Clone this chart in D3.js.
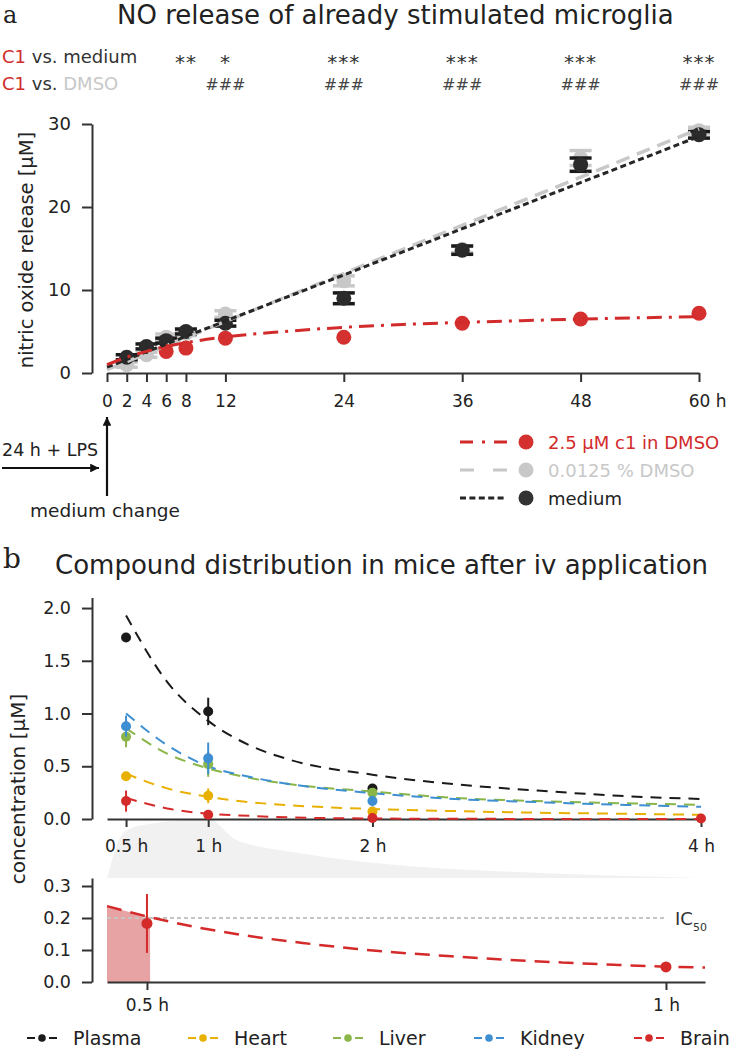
<!DOCTYPE html>
<html><head><meta charset="utf-8">
<script src="https://cdn.jsdelivr.net/npm/d3@7"></script>
<style>
body{margin:0;background:#fff;}
svg text{font-family:"DejaVu Sans",sans-serif;}
</style></head><body>
<svg id="c" width="731" height="1049"></svg>
<script>
// ---------------- Panel a data ----------------
const timesA      = [2, 4, 6, 8, 12, 24, 36, 48, 60];
const mediumVals  = [1.9, 3.2, 3.9, 5.0, 6.0, 9.0, 14.8, 25.1, 28.7];
const mediumErr   = [0.3, 0.3, 0.3, 0.3, 0.35, 0.65, 0.5, 0.8, 0.4];
const dmsoVals    = [1.0, 2.2, 4.3, 4.8, 7.1, 11.1, 14.9, 25.9, 29.2];
const dmsoErr     = [0.3, 0.3, 0.4, 0.3, 0.4, 0.6, 0.4, 0.9, 0.4];
const c1Times     = [6, 8, 12, 24, 36, 48, 60];
const c1Vals      = [2.6, 3.0, 4.2, 4.3, 6.0, 6.5, 7.2];
const c1Err       = [0.2, 0.2, 0.3, 0.3, 0.3, 0.3, 0.6];
const fitC1Times  = [0, 2, 4, 6, 8, 12, 18, 24, 30, 36, 42, 48, 54, 60];
const fitC1Vals   = [1.0, 1.9, 2.6, 3.2, 3.65, 4.35, 5.0, 5.5, 5.85, 6.1, 6.3, 6.5, 6.65, 6.8];
const fitLinTimes = [0, 60];
const fitMedium   = [0.7, 28.5];
const fitDmso     = [0.4, 29.4];
const xTicksA     = [0, 2, 4, 6, 8, 12, 24, 36, 48, 60];
const yTicksA     = [0, 10, 20, 30];
const sigMedT     = [8, 12, 24, 36, 48, 60];
const sigMedLbl   = ["**", "*", "***", "***", "***", "***"];
const sigDmsoT    = [12, 24, 36, 48, 60];
const sigDmsoLbl  = ["###", "###", "###", "###", "###"];
const legendA     = ["2.5 \u00b5M c1 in DMSO", "0.0125 % DMSO", "medium"];

// ---------------- Panel b data ----------------
const organs      = ["Plasma", "Heart", "Liver", "Kidney", "Brain"];
const timesB      = [0.5, 1, 2];
const plasmaVals  = [1.72, 1.02, 0.29];  const plasmaErr = [0.03, 0.13, 0.04];
const heartVals   = [0.405, 0.22, 0.07]; const heartErr  = [0.03, 0.07, 0.03];
const liverVals   = [0.78, 0.52, 0.25];  const liverErr  = [0.1, 0.12, 0.03];
const kidneyVals  = [0.88, 0.575, 0.17]; const kidneyErr = [0.1, 0.15, 0.05];
const brainTimes  = [0.5, 1, 2, 4];
const brainVals   = [0.17, 0.04, 0.01, 0.005]; const brainErr = [0.1, 0.02, 0.01, 0.0];
const fitTimesB   = [0.5, 0.75, 1, 1.25, 1.5, 2, 2.5, 3, 3.5, 4];
const fitPlasma   = [1.93, 1.30, 0.93, 0.70, 0.56, 0.42, 0.33, 0.27, 0.22, 0.19];
const fitHeart    = [0.43, 0.29, 0.21, 0.16, 0.13, 0.095, 0.075, 0.06, 0.05, 0.04];
const fitLiver    = [0.86, 0.62, 0.48, 0.39, 0.33, 0.26, 0.20, 0.17, 0.15, 0.135];
const fitKidney   = [1.0, 0.70, 0.50, 0.40, 0.33, 0.245, 0.19, 0.16, 0.135, 0.115];
const fitBrain    = [0.20, 0.10, 0.05, 0.03, 0.015, 0.005, 0.002, 0.001, 0.001, 0.0];
const xTicksB     = [0.5, 1, 2, 4];
const yTicksB     = [0, 0.5, 1.0, 1.5, 2.0];
// zoomed brain panel
const zoomTimes   = [0.5, 1];
const zoomVals    = [0.183, 0.047];
const zoomErr     = [0.092, 0.005];
const zoomFitT    = [0.4615, 0.5, 0.55, 0.6, 0.65, 0.7, 0.75, 0.8, 0.85, 0.9, 0.95, 1.0, 1.0376];
const zoomFitV    = [0.237, 0.205, 0.170, 0.143, 0.122, 0.104, 0.090, 0.079, 0.069, 0.061, 0.054, 0.048, 0.045];
const xTicksC     = [0.5, 1];
const yTicksC     = [0, 0.1, 0.2, 0.3];
const ic50        = 0.2;
const areaEndT    = 0.503;
// magnifier band shape (hours, fraction of band height)
const bandT       = [0.384, 0.415, 0.45, 0.5, 0.65, 1.0, 1.17, 1.56, 2.03, 2.89, 4.0];
const bandF       = [0, 0.3, 0.6, 0.8, 0.92, 1.0, 0.65, 0.42, 0.25, 0.1, 0];

// ---------------- drawing ----------------
const svg = d3.select("#c");
const AX = "#333";
const RED = "#d22b2b", GRAY = "#c8c8c8", BLK = "#262626";

function styleAxis(g, fs) {
  g.select(".domain").attr("stroke", AX).attr("stroke-width", 2);
  g.selectAll(".tick line").attr("stroke", AX).attr("stroke-width", 2);
  g.selectAll(".tick text").attr("fill", "#222").style("font-size", fs + "px")
    .style("font-family", "DejaVu Sans");
}

// Panel letters & titles
svg.append("text").attr("x", 3).attr("y", 23).text("a")
  .style("font-family", "DejaVu Serif").style("font-size", "24px").attr("fill", "#222");
svg.append("text").attr("x", 117).attr("y", 24).text("NO release of already stimulated microglia")
  .style("font-size", "26px").attr("fill", "#222");

// significance rows
const r1 = svg.append("text").attr("x", 2).attr("y", 63).style("font-size", "18px");
r1.append("tspan").attr("fill", RED).text("C1");
r1.append("tspan").attr("fill", "#333").text(" vs. medium");
const r2 = svg.append("text").attr("x", 2).attr("y", 90).style("font-size", "18px");
r2.append("tspan").attr("fill", RED).text("C1");
r2.append("tspan").attr("fill", "#333").text(" vs. ");
r2.append("tspan").attr("fill", GRAY).text("DMSO");

// ---- Panel a scales
const xA = d3.scaleLinear().domain([0, 60]).range([107, 699]);
const yA = d3.scaleLinear().domain([0, 30]).range([373, 124]);

svg.selectAll(".sigm").data(sigMedT).join("text")
  .attr("x", d => xA(d)).attr("y", 69).attr("text-anchor", "middle")
  .style("font-size", "20px").style("letter-spacing", "1px").attr("fill", "#333")
  .text((d, i) => sigMedLbl[i]);
svg.selectAll(".sigd").data(sigDmsoT).join("text")
  .attr("x", d => xA(d)).attr("y", 90).attr("text-anchor", "middle")
  .style("font-size", "16px").attr("fill", "#444")
  .text((d, i) => sigDmsoLbl[i]);

const gxA = svg.append("g").attr("transform", "translate(0,373)")
  .call(d3.axisBottom(xA).tickValues(xTicksA).tickSize(9).tickSizeOuter(0).tickPadding(13));
styleAxis(gxA, 17);
gxA.selectAll(".tick text").filter(d => d === 60).each(function() {
  const w = this.getComputedTextLength();
  d3.select(this).attr("text-anchor", "start").attr("x", -w / 2).text("60 h");
});
const gyA = svg.append("g").attr("transform", "translate(92,0)")
  .call(d3.axisLeft(yA).tickValues(yTicksA).tickSize(10).tickSizeOuter(0).tickPadding(11));
styleAxis(gyA, 18);
svg.append("text").attr("transform", "translate(33,250) rotate(-90)")
  .attr("text-anchor", "middle").style("font-size", "19.5px").attr("fill", "#222")
  .text("nitric oxide release [\u00b5M]");

// points with error bars
function pointsA(times, vals, errs, color, r, capW, capCol) {
  const g = svg.append("g");
  times.forEach((t, i) => {
    const x = xA(t);
    g.append("line").attr("x1", x).attr("x2", x)
      .attr("y1", yA(vals[i] - errs[i])).attr("y2", yA(vals[i] + errs[i]))
      .attr("stroke", capCol).attr("stroke-width", 3);
    if (capW > 0) {
      [vals[i] - errs[i], vals[i] + errs[i]].forEach(v => {
        g.append("line").attr("x1", x - capW).attr("x2", x + capW)
          .attr("y1", yA(v)).attr("y2", yA(v))
          .attr("stroke", capCol).attr("stroke-width", 3.5);
      });
    }
    g.append("circle").attr("cx", x).attr("cy", yA(vals[i])).attr("r", r).attr("fill", color);
  });
}
pointsA(timesA, dmsoVals, dmsoErr, GRAY, 7.5, 11, GRAY);
pointsA(timesA, mediumVals, mediumErr, "#2b2b2b", 7.5, 11, "#1a1a1a");
pointsA(c1Times, c1Vals, c1Err, "#d3302f", 7.5, 0, "#b81f1f");

const lineA = d3.line().x(d => xA(d[0])).y(d => yA(d[1]));
svg.append("path").attr("d", lineA(fitLinTimes.map((t, i) => [t, fitDmso[i]])))
  .attr("fill", "none").attr("stroke", GRAY).attr("stroke-width", 3.5).attr("stroke-dasharray", "14,8");
svg.append("path").attr("d", lineA(fitLinTimes.map((t, i) => [t, fitMedium[i]])))
  .attr("fill", "none").attr("stroke", BLK).attr("stroke-width", 3).attr("stroke-dasharray", "6,3.5");
svg.append("path").attr("d", lineA.curve(d3.curveMonotoneX)(fitC1Times.map((t, i) => [t, fitC1Vals[i]])))
  .attr("fill", "none").attr("stroke", RED).attr("stroke-width", 3).attr("stroke-dasharray", "15,7,3,7");

// annotations: arrows
const defs = svg.append("defs");
defs.append("marker").attr("id", "ah").attr("viewBox", "0 0 10 10").attr("refX", 10).attr("refY", 5)
  .attr("markerWidth", 6).attr("markerHeight", 4).attr("markerUnits", "strokeWidth").attr("orient", "auto")
  .append("path").attr("d", "M0,0L10,5L0,10z").attr("fill", "#111");
svg.append("line").attr("x1", 2).attr("x2", 99).attr("y1", 468).attr("y2", 468)
  .attr("stroke", "#111").attr("stroke-width", 2.2).attr("marker-end", "url(#ah)");
svg.append("line").attr("x1", xA(0)).attr("x2", xA(0)).attr("y1", 496).attr("y2", 417)
  .attr("stroke", "#111").attr("stroke-width", 2.2).attr("marker-end", "url(#ah)");
svg.append("text").attr("x", 2).attr("y", 456).style("font-size", "17.5px").attr("fill", "#222").text("24 h + LPS");
svg.append("text").attr("x", 30).attr("y", 517).style("font-size", "18.5px").attr("fill", "#222").text("medium change");

// legend a
const legColors = ["#d3302f", GRAY, "#333"];
const legTextCol = [RED, GRAY, "#222"];
const legDash = ["13,9,3,9", "14,19", "6,3.4"];
const legStroke = [RED, GRAY, BLK];
legendA.forEach((lab, i) => {
  const y = 442 + i * 28;
  svg.append("line").attr("x1", 460).attr("x2", 507).attr("y1", y).attr("y2", y)
    .attr("stroke", legStroke[i]).attr("stroke-width", 3).attr("stroke-dasharray", legDash[i]);
  svg.append("circle").attr("cx", 526).attr("cy", y).attr("r", 7.5).attr("fill", legColors[i]);
  svg.append("text").attr("x", 548).attr("y", y + 6.5).style("font-size", "18px")
    .attr("fill", legTextCol[i]).text(lab);
});

// ---------------- Panel b ----------------
svg.append("text").attr("x", 3).attr("y", 568).text("b")
  .style("font-family", "DejaVu Serif").style("font-size", "28px").attr("fill", "#222");
svg.append("text").attr("x", 55).attr("y", 574).text("Compound distribution in mice after iv application")
  .style("font-size", "26px").attr("fill", "#222");

const xB = d3.scaleLinear().domain([0.384, 4]).range([107, 701]);
const yB = d3.scaleLinear().domain([0, 2.1]).range([819, 597.5]);
const xC = d3.scaleLinear().domain([0.4615, 1.0376]).range([107, 705]);
const yC = d3.scaleLinear().domain([0, 0.325]).range([982, 878]);

// magnifier band
const bandTop = yC(0.325), bandH = bandTop - yB(0);
const bandPts = bandT.map((t, i) => [xB(t), bandTop - bandF[i] * bandH]);
svg.append("path")
  .attr("d", d3.line().curve(d3.curveMonotoneX)(bandPts) + "Z")
  .attr("fill", "#f1f1f1");

const gxB = svg.append("g").attr("transform", "translate(0,819)")
  .call(d3.axisBottom(xB).tickValues(xTicksB).tickSize(8).tickSizeOuter(0).tickPadding(13)
    .tickFormat(d => d + " h"));
styleAxis(gxB, 17);
const gyB = svg.append("g").attr("transform", "translate(92,0)")
  .call(d3.axisLeft(yB).tickValues(yTicksB).tickSize(10).tickSizeOuter(0).tickPadding(11)
    .tickFormat(d3.format(".1f")));
styleAxis(gyB, 17.5);
svg.append("text").attr("transform", "translate(25,789) rotate(-90)")
  .attr("text-anchor", "middle").style("font-size", "20px").attr("fill", "#222")
  .text("concentration [\u00b5M]");

const orgColors = ["#1a1a1a", "#e8b000", "#8ab548", "#3e8fd2", "#d42a2a"];
const fits = [fitPlasma, fitHeart, fitLiver, fitKidney, fitBrain];
const ptsT = [timesB, timesB, timesB, timesB, brainTimes];
const ptsV = [plasmaVals, heartVals, liverVals, kidneyVals, brainVals];
const ptsE = [plasmaErr, heartErr, liverErr, kidneyErr, brainErr];
const lineB = d3.line().curve(d3.curveMonotoneX).x(d => xB(d[0])).y(d => yB(d[1]));
fits.forEach((f, k) => {
  svg.append("path").attr("d", lineB(fitTimesB.map((t, i) => [t, f[i]])))
    .attr("fill", "none").attr("stroke", orgColors[k]).attr("stroke-width", 2)
    .attr("stroke-dasharray", "11,8");
});
ptsT.forEach((ts, k) => {
  const g = svg.append("g");
  ts.forEach((t, i) => {
    const v = ptsV[k][i], e = ptsE[k][i];
    if (e > 0) g.append("line").attr("x1", xB(t)).attr("x2", xB(t))
      .attr("y1", yB(Math.max(0, v - e))).attr("y2", yB(v + e))
      .attr("stroke", orgColors[k]).attr("stroke-width", 2);
    g.append("circle").attr("cx", xB(t)).attr("cy", yB(v)).attr("r", 5).attr("fill", orgColors[k]);
  });
});

// lower (zoomed) panel
const areaPts = zoomFitT.map((t, i) => [t, zoomFitV[i]]).filter(d => d[0] <= areaEndT);
const lastV = d3.interpolateNumber(zoomFitV[1], zoomFitV[2])((areaEndT - 0.5) / 0.05);
areaPts.push([areaEndT, lastV]);
svg.append("path").attr("d", d3.area().x(d => xC(d[0])).y0(yC(0)).y1(d => yC(d[1]))(areaPts))
  .attr("fill", "#e7a2a4");
svg.append("line").attr("x1", xC(0.4615)).attr("x2", xC(0.999)).attr("y1", yC(ic50)).attr("y2", yC(ic50))
  .attr("stroke", "#c4c4c4").attr("stroke-width", 2).attr("stroke-dasharray", "4,3");
const ict = svg.append("text").attr("x", 675).attr("y", yC(ic50) + 7).style("font-size", "18px").attr("fill", "#333");
ict.append("tspan").text("IC");
ict.append("tspan").attr("dy", 6).style("font-size", "11px").text("50");

const gxC = svg.append("g").attr("transform", "translate(0,982)")
  .call(d3.axisBottom(xC).tickValues(xTicksC).tickSize(8).tickSizeOuter(0).tickPadding(9)
    .tickFormat(d => d + " h"));
styleAxis(gxC, 17);
const gyC = svg.append("g").attr("transform", "translate(92,0)")
  .call(d3.axisLeft(yC).tickValues(yTicksC).tickSize(10).tickSizeOuter(0).tickPadding(11)
    .tickFormat(d3.format(".1f")));
styleAxis(gyC, 17.5);

svg.append("path").attr("d", d3.line().curve(d3.curveMonotoneX).x(d => xC(d[0])).y(d => yC(d[1]))(
    zoomFitT.map((t, i) => [t, zoomFitV[i]])))
  .attr("fill", "none").attr("stroke", "#d42a2a").attr("stroke-width", 2.5).attr("stroke-dasharray", "15,9");
zoomTimes.forEach((t, i) => {
  svg.append("line").attr("x1", xC(t)).attr("x2", xC(t))
    .attr("y1", yC(zoomVals[i] - zoomErr[i])).attr("y2", yC(zoomVals[i] + zoomErr[i]))
    .attr("stroke", "#d42a2a").attr("stroke-width", 2);
  svg.append("circle").attr("cx", xC(t)).attr("cy", yC(zoomVals[i])).attr("r", 5.5).attr("fill", "#d42a2a");
});

// legend b
const legBx = [42, 203, 348, 489, 649];
organs.forEach((o, k) => {
  const cx = legBx[k], y = 1038;
  [[-15, -7], [7, 15]].forEach(s => svg.append("line").attr("x1", cx + s[0]).attr("x2", cx + s[1])
    .attr("y1", y).attr("y2", y).attr("stroke", orgColors[k]).attr("stroke-width", 2));
  svg.append("circle").attr("cx", cx).attr("cy", y).attr("r", 3.8).attr("fill", orgColors[k]);
  svg.append("text").attr("x", cx + 31).attr("y", y + 7).style("font-size", "19px").attr("fill", "#222").text(o);
});
</script>
</body></html>
